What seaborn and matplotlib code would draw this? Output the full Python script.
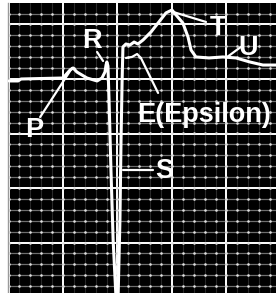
import numpy as np
import pandas as pd
import matplotlib
matplotlib.use("Agg")
import matplotlib.pyplot as plt
from matplotlib.ticker import MultipleLocator
import seaborn as sns

# ECG trace: time (s) and amplitude (mV)
time_s = [0.002, 0.035, 0.046, 0.200, 0.226, 0.237, 0.251, 0.288, 0.325, 0.343,
          0.354, 0.358, 0.361, 0.365, 0.369, 0.376, 0.384, 0.395, 0.402, 0.409,
          0.413, 0.417, 0.420, 0.431, 0.446, 0.461, 0.475, 0.494, 0.523, 0.552,
          0.578, 0.600, 0.615, 0.640, 0.659, 0.670, 0.688, 0.736, 0.787, 0.835,
          0.886, 0.934, 0.982]
amp_mv = [-0.018, -0.018, 0.000, 0.009, 0.083, 0.101, 0.064, 0.009, -0.018, 0.009,
          0.064, 0.128, 0.156, 0.119, -0.193, -0.835, -1.477, -2.028, -2.028, -1.294,
          -0.560, -0.009, 0.294, 0.321, 0.312, 0.339, 0.321, 0.358, 0.431, 0.523,
          0.606, 0.633, 0.587, 0.514, 0.385, 0.266, 0.202, 0.193, 0.202, 0.193,
          0.156, 0.128, 0.128]

# small notch under the ST segment (epsilon wave)
notch_t = [0.431, 0.453, 0.472, 0.486]
notch_mv = [0.193, 0.202, 0.229, 0.193]

# wave labels, where the text sits and where its leader line runs
wave_names = ["P", "R", "S", "T", "U", "E(Epsilon)"]
label_t = [0.095, 0.308, 0.572, 0.769, 0.881, 0.717]
label_mv = [-0.532, 0.284, -0.908, 0.404, 0.220, -0.394]
leader_t0 = [0.116, 0.325, 0.420, 0.604, 0.798, 0.486]
leader_mv0 = [-0.349, 0.248, -0.835, 0.615, 0.193, 0.193]
leader_t1 = [0.233, 0.347, 0.530, 0.725, 0.853, 0.549]
leader_mv1 = [0.101, 0.165, -0.835, 0.523, 0.294, -0.128]

df = pd.DataFrame({"t": time_s, "mv": amp_mv})
notch = pd.DataFrame({"t": notch_t, "mv": notch_mv})

sns.set_style("dark")
plt.rcParams["font.family"] = ["Liberation Sans", "DejaVu Sans"]

fig = plt.figure(figsize=(2.76, 2.93), dpi=100, facecolor="white")
ax = fig.add_axes([8 / 276, 0, 268 / 276, 290 / 293])
ax.set_facecolor("black")

ax.set_xlim(-0.002, 0.982)
ax.set_ylim(-1.963, 0.697)

# ECG paper grid
ax.xaxis.set_major_locator(MultipleLocator(0.2))
ax.xaxis.set_minor_locator(MultipleLocator(0.04))
ax.yaxis.set_major_locator(MultipleLocator(0.5))
ax.yaxis.set_minor_locator(MultipleLocator(0.1))
ax.grid(which="major", color="white", linewidth=1.4)
ax.grid(which="minor", axis="y", color="#6e6e6e", linewidth=0.9)
ax.grid(which="minor", axis="x", color="#2a2a2a", linewidth=0.8)
ax.set_axisbelow(True)
ax.tick_params(which="both", length=0, labelbottom=False, labelleft=False)

gx, gy = np.meshgrid(np.arange(0, 1.0, 0.04), np.arange(-2.0, 0.7, 0.1))
ax.scatter(gx.ravel(), gy.ravel(), s=3.5, color="#e0e0e0", linewidths=0, zorder=1)

sns.lineplot(data=df, x="t", y="mv", sort=False, color="white", linewidth=2.2,
             ax=ax, zorder=3)
sns.lineplot(data=notch, x="t", y="mv", sort=False, color="white", linewidth=1.6,
             ax=ax, zorder=3)

for name, tx, ty, a0, b0, a1, b1 in zip(wave_names, label_t, label_mv,
                                         leader_t0, leader_mv0, leader_t1, leader_mv1):
    ax.plot([a0, a1], [b0, b1], color="white", linewidth=1.6, zorder=3)
    ax.text(tx, ty, name, color="white", fontsize=19.5, fontweight="bold",
            ha="center", va="baseline", zorder=4)

ax.set_xlabel("")
ax.set_ylabel("")
for side in ["top", "right", "bottom"]:
    ax.spines[side].set_visible(False)
ax.spines["left"].set_color("#9a9a9a")
ax.spines["left"].set_linewidth(1.0)

fig.savefig("out.png", dpi=100, facecolor="white")
